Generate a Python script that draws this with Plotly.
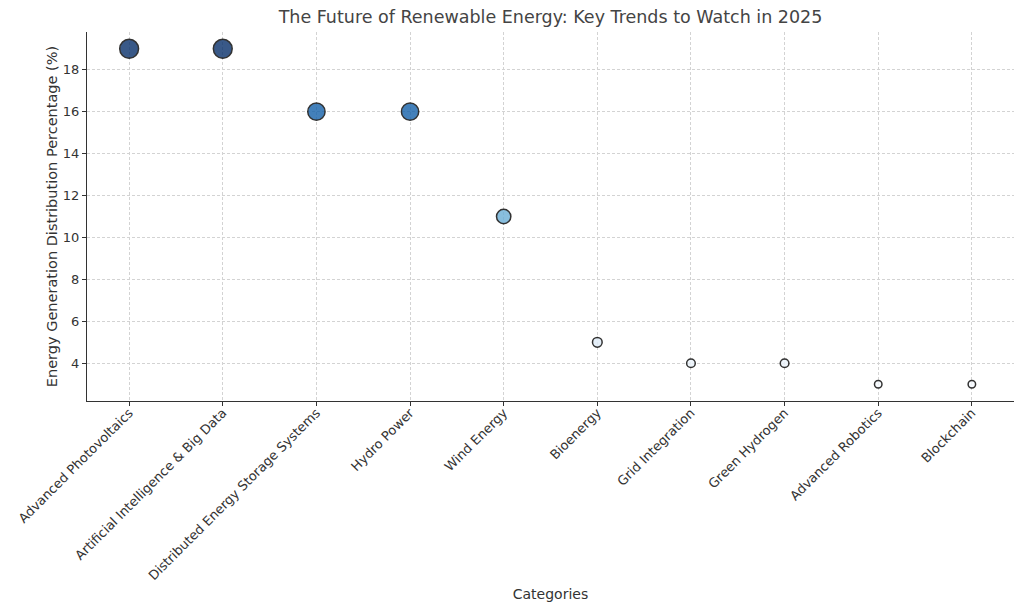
import plotly.graph_objects as go

categories = ["Advanced Photovoltaics", "Artificial Intelligence & Big Data",
              "Distributed Energy Storage Systems", "Hydro Power", "Wind Energy",
              "Bioenergy", "Grid Integration", "Green Hydrogen",
              "Advanced Robotics", "Blockchain"]
values = [19, 19, 16, 16, 11, 5, 4, 4, 3, 3]
y_ticks = [4, 6, 8, 10, 12, 14, 16, 18]

blues = [[0.0, "#f7fbff"], [0.125, "#deebf7"], [0.25, "#c6dbef"], [0.375, "#9ecae1"],
         [0.5, "#6baed6"], [0.625, "#4292c6"], [0.75, "#2171b5"], [0.875, "#08519c"],
         [1.0, "#08306b"]]

font = "DejaVu Sans"
txt = "#333333"

fig = go.Figure(go.Scatter(
    x=list(range(len(categories))), y=values, mode="markers",
    marker=dict(size=values, sizemode="area", sizeref=19 / 20 ** 2 * 2.25,
                color=values, colorscale=blues, cmin=min(values), cmax=max(values),
                opacity=0.8, line=dict(color="black", width=1.5)),
    hovertext=categories, showlegend=False))

W, H = 1016, 605
fig.update_layout(
    width=W, height=H,
    margin=dict(l=79, r=10, t=24, b=212, autoexpand=False),
    paper_bgcolor="white", plot_bgcolor="white",
    font=dict(family=font, color=txt, size=13),
    title=dict(text="The Future of Renewable Energy: Key Trends to Watch in 2025",
               x=(87 + 1014) / 2 / W - 8 / W, xanchor="center", y=1 - 9 / H, yanchor="middle",
               font=dict(size=17.5, color="#444444")),
)
grid = dict(showgrid=True, gridcolor="#d3d3d3", griddash="3px,2px", gridwidth=0.8)
fig.update_xaxes(
    range=[-0.45, len(categories) - 1 + 0.45], automargin=False,
    tickmode="array", tickvals=list(range(len(categories))), ticktext=categories,
    tickangle=-45, ticks="outside", ticklen=4, tickcolor="#333333",
    ticklabelstandoff=-6,
    showline=True, linecolor="#333333", linewidth=1.3, mirror=False,
    zeroline=False, tickfont=dict(size=13, color=txt),
    title=dict(text="Categories", font=dict(size=14, color=txt), standoff=7),
    **grid,
)
fig.update_yaxes(
    range=[2.2, 19.8], tickmode="array", tickvals=y_ticks, automargin=False,
    ticks="outside", ticklen=4, tickcolor="#333333",
    showline=True, linecolor="#333333", linewidth=1.3,
    zeroline=False, tickfont=dict(size=13, color=txt),
    title=dict(text="Energy Generation Distribution Percentage (%)",
               font=dict(size=14.5, color=txt), standoff=1),
    **grid,
)
fig.write_html("out.html")
